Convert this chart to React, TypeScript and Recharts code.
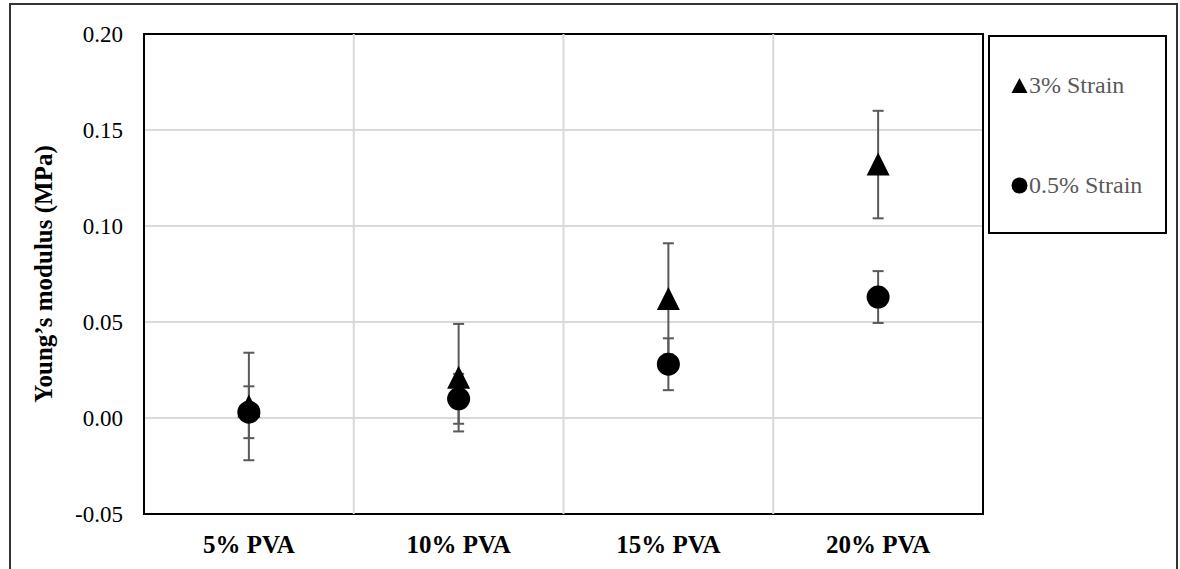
import {
  ScatterChart,
  Scatter,
  XAxis,
  YAxis,
  CartesianGrid,
  ErrorBar,
  ReferenceLine,
  ReferenceArea,
  Legend,
} from "recharts";

const categories = ["5% PVA", "10% PVA", "15% PVA", "20% PVA"];
const seriesNames = ["3% Strain", "0.5% Strain"];
const strain3 = [0.006, 0.021, 0.062, 0.132];
const strain3Err = [0.028, 0.028, 0.029, 0.028];
const strain05 = [0.003, 0.01, 0.028, 0.063];
const strain05Err = [0.0135, 0.013, 0.0135, 0.0135];
const yTicks = [-0.05, 0, 0.05, 0.1, 0.15, 0.2];

const FONT = "'Liberation Serif', 'Times New Roman', serif";

// x is the category slot centre on a 0..4 number axis
const toPoints = (vals: number[], errs: number[]) =>
  vals.map((v, i) => ({ x: i + 0.5, y: v, err: errs[i], cat: categories[i] }));

const data3 = toPoints(strain3, strain3Err);
const data05 = toPoints(strain05, strain05Err);

const Triangle = (props: any) => {
  const { cx, cy } = props;
  if (cx == null || cy == null) return null;
  return (
    <polygon
      points={`${cx},${cy - 12} ${cx + 11.5},${cy + 11} ${cx - 11.5},${cy + 11}`}
      fill="#000"
    />
  );
};

const Dot = (props: any) => {
  const { cx, cy } = props;
  if (cx == null || cy == null) return null;
  return <circle cx={cx} cy={cy} r={11.5} fill="#000" />;
};

const LegendBox = (props: any) => {
  // keep the series order (legend sorts by name otherwise)
  const items = [...(props.payload || [])].sort(
    (a: any, b: any) => seriesNames.indexOf(a.value) - seriesNames.indexOf(b.value)
  );
  return (
    <div
      style={{
        width: 179,
        height: 199,
        border: "2px solid #000",
        boxSizing: "border-box",
        background: "#fff",
        position: "relative",
        fontFamily: FONT,
      }}
    >
      {items.map((item: any, i: number) => (
        <div
          key={item.value}
          style={{
            position: "absolute",
            left: 21,
            top: 34 + 100 * i,
            height: 28,
            display: "flex",
            alignItems: "center",
            fontSize: 24,
            color: "#595959",
            whiteSpace: "nowrap",
          }}
        >
          <svg width={17} height={17} style={{ marginRight: 1 }}>
            {item.type === "triangle" ? (
              <polygon points="8.5,1 16.5,16 0.5,16" fill="#000" />
            ) : (
              <circle cx={8.5} cy={8.5} r={8} fill="#000" />
            )}
          </svg>
          {item.value}
        </div>
      ))}
    </div>
  );
};

export default function App() {
  return (
    <div
      style={{
        position: "absolute",
        left: 0,
        top: 0,
        width: 1180,
        height: 569,
        overflow: "hidden",
        background: "#fff",
      }}
    >
      <div
        style={{
          position: "absolute",
          left: 9,
          top: 3,
          width: 1169,
          height: 620,
          border: "2px solid #333",
          boxSizing: "border-box",
        }}
      />
      <div style={{ position: "absolute", left: 0, top: 0 }}>
        <ScatterChart
          width={1180}
          height={569}
          margin={{ top: 34, right: 197, bottom: 0, left: 0 }}
        >
          <CartesianGrid
            vertical={false}
            stroke="#d9d9d9"
            strokeWidth={2}
          />
          <XAxis
            type="number"
            dataKey="x"
            domain={[0, 4]}
            ticks={[0.5, 1.5, 2.5, 3.5]}
            tickFormatter={(v) => categories[Math.floor(v)]}
            height={55}
            axisLine={false}
            tickLine={false}
            tickSize={0}
            tickMargin={21}
            interval={0}
            tick={{ fontSize: 25, fontWeight: "bold", fill: "#000", fontFamily: FONT }}
          />
          <YAxis
            type="number"
            dataKey="y"
            domain={[-0.05, 0.2]}
            ticks={yTicks}
            tickFormatter={(v) => Number(v).toFixed(2)}
            width={144}
            axisLine={false}
            tickLine={false}
            tickSize={0}
            tickMargin={21}
            tick={{ fontSize: 23, fill: "#000", fontFamily: FONT }}
            label={{
              value: "Young’s modulus (MPa)",
              angle: -90,
              position: "insideLeft",
              offset: 43,
              style: {
                textAnchor: "middle",
                fontSize: 25,
                fontWeight: "bold",
                fill: "#000",
                fontFamily: FONT,
              },
            }}
          />
          {[1, 2, 3].map((b) => (
            <ReferenceLine key={b} x={b} stroke="#d9d9d9" strokeWidth={2} />
          ))}
          <ReferenceArea
            x1={0}
            x2={4}
            y1={-0.05}
            y2={0.2}
            fill="none"
            stroke="#000"
            strokeWidth={2}
          />
          <Legend
            layout="horizontal"
            verticalAlign="middle"
            align="center"
            content={<LegendBox />}
            wrapperStyle={{ left: 988, top: 35, width: 179, height: 199 }}
          />
          <Scatter
            name={seriesNames[0]}
            data={data3}
            legendType="triangle"
            fill="#000"
            shape={<Triangle />}
            isAnimationActive={false}
          >
            <ErrorBar
              dataKey="err"
              direction="y"
              width={5.5}
              stroke="#595959"
              strokeWidth={2}
            />
          </Scatter>
          <Scatter
            name={seriesNames[1]}
            data={data05}
            legendType="circle"
            fill="#000"
            shape={<Dot />}
            isAnimationActive={false}
          >
            <ErrorBar
              dataKey="err"
              direction="y"
              width={5.5}
              stroke="#595959"
              strokeWidth={2}
            />
          </Scatter>
        </ScatterChart>
      </div>
    </div>
  );
}
